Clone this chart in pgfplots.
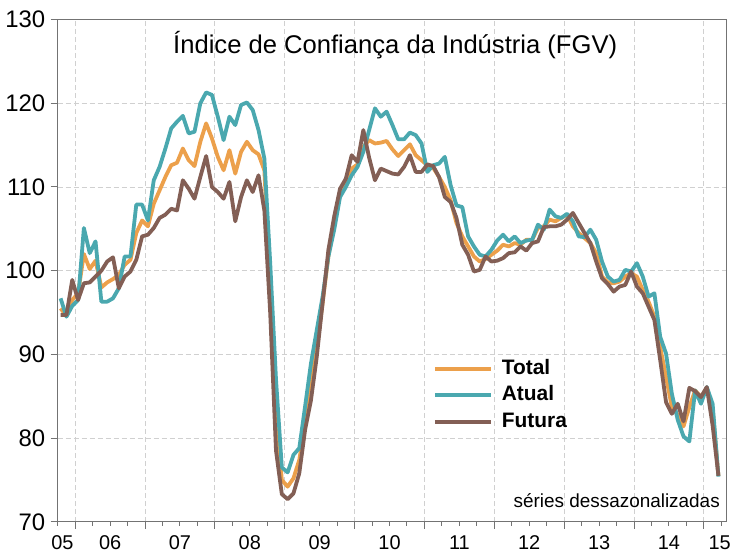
\documentclass[border=0pt]{standalone}
\usepackage{fontspec}
\setmainfont{Liberation Sans}
\usepackage{pgfplots}
\usepackage{pgfplotstable}
\pgfplotsset{compat=1.18}

\definecolor{cTotal}{RGB}{236,160,75}
\definecolor{cAtual}{RGB}{74,168,175}
\definecolor{cFutura}{RGB}{131,95,85}
\definecolor{gridc}{RGB}{208,208,208}

% x = months since Jan 2005 (mid-month), monthly, seasonally adjusted
\pgfplotstableread{
x      total  atual  futura
9.5    95.5   96.7   94.7
10.5   94.6   94.5   94.7
11.5   96.5   95.8   98.9
12.5   97.3   96.5   96.5
13.5   102.0  105.1  98.5
14.5   100.2  102.1  98.6
15.5   101.2  103.5  99.3
16.5   98.0   96.3   100.0
17.5   98.6   96.3   101.1
18.5   99.0   96.7   101.6
19.5   99.5   97.9   97.9
20.5   100.7  101.7  99.3
21.5   101.3  101.7  99.9
22.5   104.5  107.9  101.3
23.5   106.0  107.9  104.1
24.5   105.3  106.0  104.3
25.5   108.0  110.8  105.1
26.5   109.6  112.4  106.3
27.5   111.2  114.6  106.7
28.5   112.6  117.0  107.4
29.5   112.9  117.8  107.2
30.5   114.6  118.5  110.8
31.5   113.2  116.4  109.8
32.5   112.5  116.6  108.6
33.5   115.4  120.0  111.2
34.5   117.6  121.3  113.7
35.5   115.8  121.0  110.0
36.5   113.6  118.4  109.4
37.5   112.0  115.6  108.6
38.5   114.4  118.4  110.6
39.5   111.6  117.4  105.9
40.5   114.2  119.8  108.8
41.5   115.4  120.1  110.8
42.5   114.4  119.2  109.4
43.5   113.9  116.8  111.4
44.5   112.0  113.4  107.2
45.5   98.0   101.0  95.0
46.5   83.0   87.0   78.5
47.5   75.0   76.5   73.3
48.5   74.2   75.9   72.7
49.5   75.2   78.0   73.4
50.5   77.4   78.8   75.8
51.5   81.8   83.8   81.0
52.5   86.5   88.9   84.5
53.5   90.9   92.9   89.7
54.5   96.1   96.9   96.1
55.5   101.7  101.7  102.5
56.5   105.7  104.9  106.5
57.5   109.2  108.8  109.8
58.5   110.8  110.0  111.0
59.5   112.2  111.4  113.8
60.5   112.7  112.4  113.0
61.5   114.8  114.2  116.8
62.5   115.6  116.8  113.5
63.5   115.2  119.4  110.8
64.5   115.3  118.4  112.2
65.5   115.5  119.0  111.9
66.5   114.5  117.4  111.6
67.5   113.7  115.7  111.5
68.5   114.4  115.7  112.4
69.5   115.1  116.5  113.8
70.5   113.8  116.2  111.8
71.5   113.2  115.2  111.8
72.5   112.6  111.8  112.7
73.5   112.3  112.6  112.5
74.5   111.2  112.8  111.2
75.5   110.0  113.6  108.8
76.5   108.4  110.2  108.2
77.5   105.7  107.8  106.3
78.5   104.1  107.6  103.1
79.5   102.9  104.1  101.9
80.5   101.7  102.9  99.9
81.5   101.1  101.9  100.1
82.5   101.4  101.7  101.7
83.5   101.9  102.5  101.1
84.5   102.4  103.6  101.2
85.5   103.1  104.3  101.5
86.5   102.9  103.5  102.1
87.5   103.3  104.1  102.2
88.5   103.1  103.3  102.9
89.5   103.7  103.6  102.4
90.5   103.7  103.7  103.3
91.5   105.1  105.5  103.5
92.5   105.3  104.9  105.2
93.5   106.1  107.3  105.3
94.5   105.9  106.5  105.3
95.5   106.3  106.3  105.5
96.5   106.7  106.8  106.1
97.5   105.3  105.9  106.9
98.5   104.5  104.1  105.7
99.5   103.9  104.0  104.5
100.5  103.3  104.9  103.3
101.5  102.1  103.7  101.1
102.5  99.3   101.1  99.1
103.5  98.6   99.3   98.4
104.5  98.5   98.7   97.5
105.5  98.7   98.9   98.1
106.5  99.3   100.1  98.3
107.5  99.7   99.9   99.9
108.5  99.3   100.9  98.1
109.5  97.7   99.3   97.3
110.5  96.3   96.9   95.7
111.5  94.5   97.3   94.1
112.5  90.9   92.1   89.3
113.5  87.3   90.1   84.3
114.5  83.7   85.3   82.9
115.5  82.8   82.2   84.1
116.5  81.4   80.2   82.0
117.5  83.7   79.6   86.0
118.5  85.7   85.7   85.6
119.5  84.9   84.1   84.9
120.5  86.0   86.1   86.1
121.5  83.5   84.1   81.5
122.5  75.5   75.4   75.5
}\ici

\begin{document}
\begin{tikzpicture}
\begin{axis}[
    name=ax,
    scale only axis, width=668.3bp, height=502.2bp,
    xmin=9, xmax=123.8, ymin=70, ymax=130,
    xtick={12,24,...,120}, xticklabels={},
    minor xtick={9,15,18,21,27,30,33,39,42,45,51,54,57,63,66,69,75,78,81,87,90,93,99,102,105,111,114,117,123},
    ytick={70,80,...,130},
    tick align=outside, xtick pos=bottom, ytick pos=left,
    major tick length=7bp, minor tick length=4bp,
    xmajorgrids, ymajorgrids,
    grid style={gridc, dash pattern=on 5bp off 3bp, line width=0.9bp},
    axis line style={black!55, line width=1bp},
    tick style={black!55, line width=1bp},
    yticklabel style={font=\fontsize{24}{24}\selectfont, xshift=-2bp},
    /pgf/number format/assume math mode=true,
    clip=false,
    legend cell align=left,
    legend image code/.code={\draw[#1] (0bp,0bp) -- (56bp,0bp);},
    legend style={at={(0.5616,0.3236)}, anchor=north west, draw=none, fill=none,
        inner sep=0pt, outer sep=0pt, row sep=7.5bp,
        font=\bfseries\fontsize{21}{21}\selectfont,
        nodes={inner sep=0pt, text height=15bp, text depth=4bp},
        /tikz/every odd column/.append style={column sep=9bp}},
    every axis plot/.append style={line width=3.8bp, line join=round},
]
\addplot[cTotal] table[x=x, y=total] {\ici};
\addplot[cAtual] table[x=x, y=atual] {\ici};
\addplot[cFutura] table[x=x, y=futura] {\ici};
\legend{Total, Atual, Futura}

\node[font=\fontsize{25.7}{25.7}\selectfont] at (rel axis cs:0.505,0.949) {Índice de Confiança da Indústria (FGV)};
\node[font=\fontsize{19}{19}\selectfont, anchor=east, inner sep=0pt] at (rel axis cs:0.991,0.043) {séries dessazonalizadas};

\begin{scope}[every node/.style={anchor=north, inner sep=0pt, yshift=-13.5bp, font=\fontsize{20}{20}\selectfont}]
\node at (axis cs:9.8,70) {05};
\node at (axis cs:18,70) {06};
\node at (axis cs:30,70) {07};
\node at (axis cs:42,70) {08};
\node at (axis cs:54,70) {09};
\node at (axis cs:66,70) {10};
\node at (axis cs:78,70) {11};
\node at (axis cs:90,70) {12};
\node at (axis cs:102,70) {13};
\node at (axis cs:114,70) {14};
\node at (axis cs:122.7,70) {15};
\end{scope}
\end{axis}
\pgfresetboundingbox
\path[use as bounding box] (ax.south west) ++(-57.7bp,-32.2bp) rectangle ++(730bp,554bp);
\end{tikzpicture}
\end{document}
